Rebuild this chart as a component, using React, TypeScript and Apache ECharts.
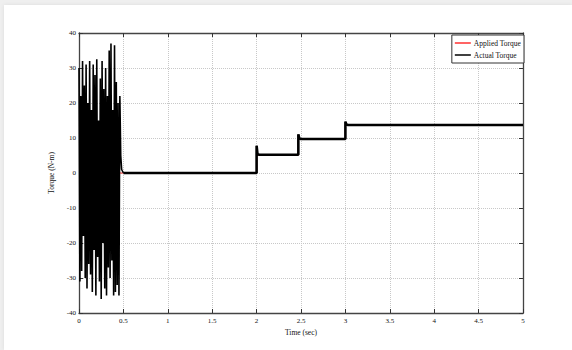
import React, { useEffect, useRef } from "react";
import * as echarts from "echarts";

const oscTimes = [
  0, 0.01, 0.02, 0.03, 0.04, 0.05, 0.06, 0.07, 0.08, 0.09,
  0.1, 0.11, 0.12, 0.13, 0.14, 0.15, 0.16, 0.17, 0.18, 0.19,
  0.2, 0.21, 0.22, 0.23, 0.24, 0.25, 0.26, 0.27, 0.28, 0.29,
  0.3, 0.31, 0.32, 0.33, 0.34, 0.35, 0.36, 0.37, 0.38, 0.39,
  0.4, 0.41, 0.42, 0.43, 0.44, 0.45, 0.46, 0.47, 0.48, 0.5,
];
const oscValues = [
  30, -31, 22, -28, 32, -18, 25, -30, 31, -33,
  20, -26, 32, -29, 18, -34, 31, -22, 28, -35,
  32.5, -24, 15, -31, 27, -36, 32, -20, 24, -33,
  30, -35, 22, -27, 35, -30, 37, -25, 18, -35,
  36.5, -34, 26, -32, 20, -35, 22, 5, 1, 0,
];

const steadyTimes = [0.5, 2.0, 2.0, 2.01, 2.03, 2.47, 2.47, 2.48, 2.5, 3.0, 3.0, 3.01, 3.03, 5.0];
const steadyValues = [0, 0, 7.8, 5.4, 5.2, 5.2, 11.1, 9.9, 9.7, 9.7, 14.7, 13.9, 13.7, 13.7];

const appliedTimes = [0, 2.0, 2.0, 2.47, 2.47, 3.0, 3.0, 5.0];
const appliedValues = [0, 0, 5.2, 5.2, 9.7, 9.7, 13.7, 13.7];

const xTickInterval = 0.5;
const yTickInterval = 10;

const zip = (a: number[], b: number[]) => a.map((t, i) => [t, b[i]]);

const FONT = "Liberation Serif";

export default function App() {
  const ref = useRef<HTMLDivElement>(null);
  useEffect(() => {
    if (!ref.current) return;
    const chart = echarts.init(ref.current, null, { renderer: "svg" });
    const axisLine = { show: true, onZero: false, lineStyle: { color: "#444", width: 1.3 } };
    const axisTick = { show: true, inside: true, length: 4, lineStyle: { color: "#333", width: 1 } };
    const splitLine = { show: true, lineStyle: { type: "dotted", color: "#c8c8c8", width: 1 } };
    chart.setOption({
      animation: false,
      backgroundColor: "transparent",
      grid: { left: 79, right: 49, top: 33, bottom: 37, containLabel: false },
      legend: {
        right: 48,
        top: 35,
        orient: "vertical",
        backgroundColor: "#fff",
        borderColor: "#333",
        borderWidth: 1,
        padding: [4, 3, 4, 3],
        itemGap: 4,
        itemWidth: 16,
        itemHeight: 1.5,
        icon: "rect",
        textStyle: { fontFamily: FONT, fontSize: 7.5, color: "#111", padding: [0, 0, 0, -2] },
        data: ["Applied Torque", "Actual Torque"],
      },
      xAxis: [
        {
          type: "value",
          min: 0,
          max: 5,
          interval: xTickInterval,
          position: "bottom",
          axisLine,
          axisTick,
          axisLabel: { fontFamily: FONT, fontSize: 7, color: "#111", margin: 4 },
          splitLine,
          name: "Time (sec)",
          nameLocation: "middle",
          nameGap: 13,
          nameTextStyle: { fontFamily: FONT, fontSize: 7.5, color: "#111" },
        },
        {
          type: "value",
          min: 0,
          max: 5,
          interval: xTickInterval,
          position: "top",
          axisLine,
          axisTick,
          axisLabel: { show: false },
          splitLine: { show: false },
        },
      ],
      yAxis: [
        {
          type: "value",
          min: -40,
          max: 40,
          interval: yTickInterval,
          position: "left",
          axisLine,
          axisTick,
          axisLabel: { fontFamily: FONT, fontSize: 7, color: "#111", margin: 3 },
          splitLine,
          name: "Torque (N-m)",
          nameLocation: "middle",
          nameGap: 13,
          nameRotate: 90,
          nameTextStyle: { fontFamily: FONT, fontSize: 7.5, color: "#111" },
        },
        {
          type: "value",
          min: -40,
          max: 40,
          interval: yTickInterval,
          position: "right",
          axisLine,
          axisTick,
          axisLabel: { show: false },
          splitLine: { show: false },
        },
      ],
      series: [
        {
          name: "Applied Torque",
          type: "line",
          xAxisIndex: 0,
          yAxisIndex: 0,
          symbol: "none",
          data: zip(appliedTimes, appliedValues),
          lineStyle: { color: "#ff3030", width: 1.2 },
          itemStyle: { color: "#ff3030" },
        },
        {
          name: "Actual Torque",
          type: "line",
          xAxisIndex: 0,
          yAxisIndex: 0,
          symbol: "none",
          data: zip(oscTimes, oscValues),
          lineStyle: { color: "#000", width: 1.6 },
          itemStyle: { color: "#000" },
        },
        {
          name: "Actual Torque",
          type: "line",
          xAxisIndex: 0,
          yAxisIndex: 0,
          symbol: "none",
          data: zip(steadyTimes, steadyValues),
          lineStyle: { color: "#000", width: 2.6 },
          itemStyle: { color: "#000" },
        },
      ],
    });
    return () => chart.dispose();
  }, []);
  return (
    <div style={{ position: "fixed", left: 0, top: 0, width: 572, height: 350, background: "#efefef" }}>
      <div style={{ position: "absolute", left: 4, top: 5, right: 0, bottom: 0, background: "#fff", boxShadow: "0 0 4px rgba(0,0,0,0.08)" }} />
      <div ref={ref} style={{ position: "absolute", left: 0, top: 0, width: 572, height: 350 }} />
    </div>
  );
}
